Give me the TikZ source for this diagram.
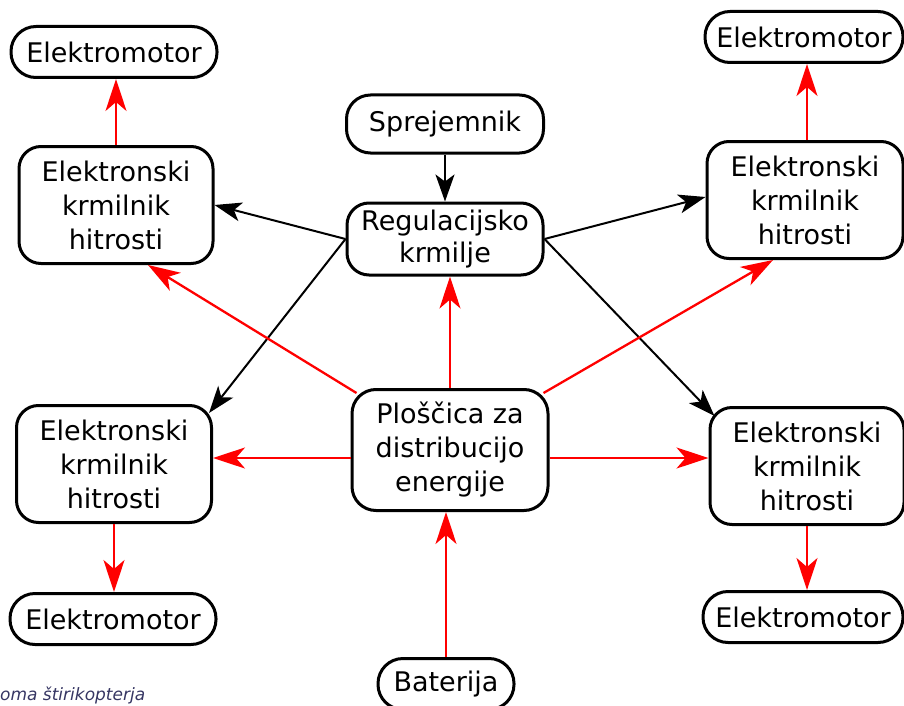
\documentclass[tikz,border=0pt]{standalone}
\usepackage{fontspec}
\setmainfont{DejaVu Sans}
\usetikzlibrary{arrows.meta,calc}
\begin{document}
\begin{tikzpicture}[x=1pt,y=-1pt,
  box/.style={draw=black,line width=3pt,fill=white,align=center,inner sep=0pt,
    font=\fontsize{27}{34}\selectfont},
  motor/.style={box,minimum width=206pt,minimum height=51pt,rounded corners=25pt},
  ctrl/.style={box,minimum width=194pt,minimum height=117pt,rounded corners=22pt},
  blk/.style={draw=black,line width=2pt,-{Stealth[length=27pt,width=19pt,inset=7pt]}},
  pwr/.style={draw=red,line width=2.3pt,-{Stealth[length=32pt,width=21pt,inset=9pt]}},
]
\useasboundingbox (0,0) rectangle (904,706);
% nodes
\node[motor] (m1) at (114,52) {Elektromotor};
\node[motor,minimum width=198pt] (m2) at (804,37) {Elektromotor};
\node[motor] (m3) at (113,619) {Elektromotor};
\node[motor,minimum width=200pt] (m4) at (803,617) {Elektromotor};
\node[ctrl] (c1) at (116,205) {Elektronski\\krmilnik\\hitrosti};
\node[ctrl,minimum width=196pt] (c2) at (805,200) {Elektronski\\krmilnik\\hitrosti};
\node[ctrl,minimum width=195pt] (c3) at (114,464) {Elektronski\\krmilnik\\hitrosti};
\node[ctrl] (c4) at (807,466) {Elektronski\\krmilnik\\hitrosti};
\node[box,minimum width=197pt,minimum height=58pt,rounded corners=24pt] (sp) at (445,124) {Sprejemnik};
\node[box,minimum width=196pt,minimum height=72pt,rounded corners=22pt,font=\fontsize{27}{32}\selectfont] (reg) at (445,239) {Regulacijsko\\krmilje};
\node[box,minimum width=196pt,minimum height=121pt,rounded corners=24pt] (pl) at (450,450) {Ploščica za\\distribucijo\\energije};
\node[box,minimum width=136pt,minimum height=51pt,rounded corners=25pt] (bat) at (446,684) {Baterija};
\node[anchor=base west,inner sep=0pt,text=gray!70!blue!60!black,
  font=\fontsize{17}{19}\selectfont\itshape] (cap) at (0,700) {oma štirikopterja};
\coordinate (ly) at (0,458);
\coordinate (x2) at (807,0);
% black control arrows
\draw[blk] (sp.south) -- (reg.north);
\draw[blk] (reg.west) -- (c1.east);
\draw[blk] (reg.west) -- ($(c3.north east)+(-4,9)$);
\draw[blk] (reg.east) -- ($(c2.west)+(0,-3)$);
\draw[blk] (reg.east) -- ($(c4.north west)+(6,10)$);
% red power arrows
\draw[pwr] ($(pl.north west)+(6,5)$) -- ($(c1.south)+(32,0)$);
\draw[pwr] ($(pl.north east)+(-6,5)$) -- ($(c2.south)+(-32,0)$);
\draw[pwr] (pl.north) -- (pl.north |- reg.south);
\draw[pwr] (pl.west |- ly) -- (c3.east |- ly);
\draw[pwr] (pl.east |- ly) -- (c4.west |- ly);
\draw[pwr] (bat.north) -- (bat.north |- pl.south);
\draw[pwr] (c1.north) -- (c1.north |- m1.south);
\draw[pwr] (x2 |- c2.north) -- (x2 |- m2.south);
\draw[pwr] (c3.south) -- (c3.south |- m3.north);
\draw[pwr] (x2 |- c4.south) -- (x2 |- m4.north);
\end{tikzpicture}
\end{document}
